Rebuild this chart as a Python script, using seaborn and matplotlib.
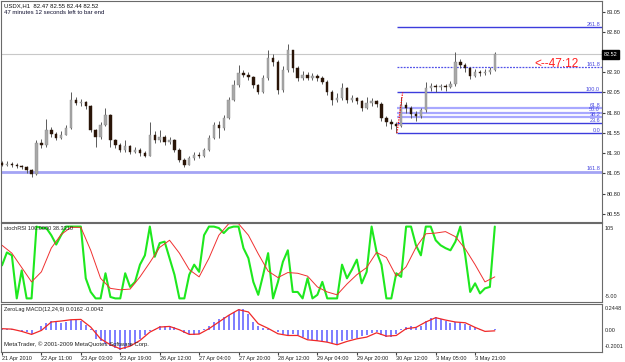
import numpy as np
import pandas as pd
import matplotlib
matplotlib.use("Agg")
import matplotlib.pyplot as plt
import seaborn as sns

# ---------------- data ----------------
x_labels = ["21 Apr 2010", "22 Apr 11:00", "23 Apr 03:00", "23 Apr 19:00", "26 Apr 12:00",
            "27 Apr 04:00", "27 Apr 20:00", "28 Apr 12:00", "29 Apr 04:00", "29 Apr 20:00",
            "30 Apr 12:00", "3 May 05:00", "3 May 21:00"]

first_open = 81.18
close = [81.16, 81.17, 81.16, 81.14, 81.13, 81.09, 81.04, 81.43, 81.40, 81.59,
         81.54, 81.49, 81.53, 81.61, 81.96, 81.92, 81.93, 81.88, 81.59, 81.50,
         81.65, 81.77, 81.46, 81.40, 81.34, 81.39, 81.32, 81.34, 81.30, 81.27,
         81.53, 81.46, 81.50, 81.44, 81.46, 81.34, 81.22, 81.16, 81.24, 81.28,
         81.27, 81.34, 81.49, 81.65, 81.61, 81.74, 81.96, 82.14, 82.29, 82.27,
         82.24, 82.14, 82.06, 82.23, 82.48, 82.43, 82.08, 82.33, 82.57, 82.35,
         82.23, 82.27, 82.23, 82.25, 82.23, 82.18, 82.06, 81.96, 81.98, 82.11,
         81.96, 81.98, 81.94, 81.86, 81.92, 81.94, 81.91, 81.74, 81.69, 81.66,
         81.64, 81.90, 81.86, 81.78, 81.76, 81.83, 82.11, 82.13, 82.12, 82.13,
         82.12, 82.15, 82.43, 82.39, 82.35, 82.25, 82.30, 82.29, 82.30, 82.33,
         82.52]
high = [81.20, 81.20, 81.19, 81.18, 81.16, 81.14, 81.10, 81.46, 81.47, 81.72,
        81.62, 81.56, 81.57, 81.65, 82.06, 81.99, 81.97, 81.94, 81.90, 81.60,
        81.68, 81.86, 81.78, 81.48, 81.43, 81.46, 81.40, 81.38, 81.37, 81.33,
        81.68, 81.57, 81.59, 81.52, 81.50, 81.47, 81.36, 81.24, 81.27, 81.31,
        81.31, 81.37, 81.52, 81.68, 81.70, 81.77, 81.99, 82.20, 82.39, 82.33,
        82.30, 82.25, 82.16, 82.27, 82.57, 82.52, 82.45, 82.38, 82.65, 82.58,
        82.38, 82.32, 82.30, 82.29, 82.28, 82.25, 82.20, 82.08, 82.04, 82.17,
        82.12, 82.02, 82.00, 81.96, 81.99, 81.98, 81.96, 81.93, 81.76, 81.72,
        81.69, 82.00, 81.93, 81.88, 81.82, 81.86, 82.18, 82.17, 82.16, 82.16,
        82.15, 82.19, 82.55, 82.46, 82.41, 82.37, 82.34, 82.33, 82.34, 82.37,
        82.55]
low = [81.14, 81.14, 81.13, 81.12, 81.10, 81.06, 81.00, 81.03, 81.37, 81.38,
       81.50, 81.46, 81.47, 81.52, 81.60, 81.89, 81.88, 81.85, 81.56, 81.38,
       81.48, 81.63, 81.38, 81.37, 81.31, 81.32, 81.29, 81.30, 81.27, 81.25,
       81.26, 81.42, 81.44, 81.40, 81.41, 81.31, 81.19, 81.13, 81.15, 81.22,
       81.24, 81.25, 81.33, 81.47, 81.49, 81.59, 81.72, 81.94, 82.12, 82.24,
       82.20, 82.10, 82.03, 82.04, 82.21, 82.38, 82.03, 82.06, 82.30, 82.30,
       82.19, 82.21, 82.20, 82.20, 82.19, 82.15, 82.02, 81.90, 81.93, 81.96,
       81.92, 81.93, 81.91, 81.82, 81.84, 81.88, 81.87, 81.70, 81.63, 81.60,
       81.55, 81.62, 81.80, 81.74, 81.70, 81.73, 81.81, 82.07, 82.06, 82.08,
       82.07, 82.10, 82.13, 82.35, 82.30, 82.22, 82.24, 82.25, 82.26, 82.28,
       82.32]

stoch_main = [46, 64, 60, 0, 39, 0, 0, 100, 98, 98,
              88, 75, 88, 100, 100, 100, 100, 28, 9, 0,
              0, 35, 2, 0, 0, 35, 16, 23, 47, 60,
              100, 58, 77, 79, 56, 33, 0, 0, 33, 47,
              37, 88, 100, 100, 98, 91, 98, 100, 100, 70,
              56, 23, 5, 33, 63, 0, 23, 51, 67, 9,
              9, 0, 28, 0, 5, 23, 0, 0, 0, 47,
              28, 40, 54, 21, 37, 100, 65, 47, 0, 0,
              35, 30, 100, 100, 74, 60, 100, 100, 81, 74,
              70, 67, 79, 100, 60, 9, 21, 7, 14, 16,
              100]
stoch_signal = [74, 63, 43, 23, 37, 70, 89, 99, 99, 67,
                28, 14, 12, 13, 30, 50, 71, 81, 63, 40,
                30, 56, 88, 104, 104, 88, 62, 38, 29, 36,
                35, 31, 16, 9, 5, 20, 33, 43, 64, 57,
                31, 44, 71, 90, 91, 93, 86, 69, 47, 23,
                30]

macd_hist = [0.012, 0.012, 0.009, 0.006, -0.003, -0.016, -0.031, 0.0, 0.040, 0.071,
             0.084, 0.078, 0.071, 0.078, 0.099, 0.109, 0.084, 0.053, 0.009, -0.078,
             -0.102, -0.124, -0.146, -0.164, -0.180, -0.171, -0.146, -0.115, -0.084, -0.047,
             -0.009, 0.016, 0.037, 0.040, 0.037, 0.028, 0.0, -0.022, -0.037, -0.040,
             -0.034, 0.009, 0.040, 0.078, 0.102, 0.124, 0.146, 0.171, 0.200, 0.195,
             0.155, 0.078, 0.040, 0.022, 0.016, 0.003, -0.016, -0.034, -0.040, -0.031,
             -0.040, -0.062, -0.084, -0.093, -0.096, -0.102, -0.109, -0.118, -0.124, -0.102,
             -0.087, -0.078, -0.068, -0.053, -0.040, -0.025, -0.016, -0.040, -0.062, -0.059,
             -0.034, 0.009, 0.028, 0.037, 0.034, 0.040, 0.084, 0.115, 0.121, 0.102,
             0.084, 0.071, 0.078, 0.071, 0.059, 0.040, 0.028, 0.016, 0.003, 0.0,
             0.016]
macd_signal = [0.016, 0.012, -0.009, -0.037, 0.0, 0.078, 0.087, 0.099, 0.102, 0.031,
               -0.078, -0.133, -0.171, -0.146, -0.093, -0.016, 0.031, 0.037, 0.006, -0.037,
               -0.034, 0.016, 0.078, 0.140, 0.192, 0.171, 0.062, 0.019, -0.031, -0.047,
               -0.047, -0.087, -0.096, -0.109, -0.133, -0.102, -0.078, -0.062, -0.022, -0.053,
               -0.047, 0.016, 0.028, 0.078, 0.118, 0.096, 0.078, 0.071, 0.028, -0.009,
               -0.004]

price_ticks = [83.05, 82.80, 82.30, 82.05, 81.80, 81.55, 81.30, 81.05, 80.80, 80.55]
fib_levels = [0.0, 23.6, 38.2, 50.0, 61.8, 100.0, 161.8, 261.8]
fib_low, fib_high = 81.55, 82.05
ext_line_price = 81.07
last_price = 82.52

# ---------------- figure ----------------
sns.set_style("white")
plt.rcParams['font.family'] = ['Liberation Sans', 'DejaVu Sans']

W, H = 625, 362
fig = plt.figure(figsize=(W / 100, H / 100), dpi=100)
fig.patch.set_facecolor("white")


def rect(x0, y0, x1, y1):
    return [x0 / W, 1 - y1 / H, (x1 - x0) / W, (y1 - y0) / H]


ax1 = fig.add_axes(rect(1, 1, 602, 222))
ax2 = fig.add_axes(rect(1, 223, 602, 302))
ax3 = fig.add_axes(rect(1, 304, 602, 352))

XMIN, XMAX = -0.4, 243.5
n = len(close)
hx = np.arange(n) * 2.0          # hourly positions of the 2-hour candles
hs = np.arange(len(stoch_signal)) * 4.0

for ax in (ax1, ax2, ax3):
    ax.set_xlim(XMIN, XMAX)
    ax.set_facecolor("white")
    for s in ax.spines.values():
        s.set_color("#6a6a6a")
        s.set_linewidth(0.8)
        s.set_linestyle((0, (2, 1)))
    ax.tick_params(axis="x", bottom=False, labelbottom=False)
    ax.tick_params(axis="y", left=False, labelleft=False)

# ---- main price panel ----
c = np.array(close)
o = np.array([first_open] + close[:-1])
hi = np.array(high)
lo = np.array(low)
bull = c >= o
ax1.vlines(hx, lo, hi, color="#5a5a5a", lw=0.7, zorder=3)
body_bottom = np.minimum(o, c)
body_h = np.maximum(np.abs(c - o), 0.006)
ax1.bar(hx[bull], body_h[bull], bottom=body_bottom[bull], width=1.0,
        color="#a8a8a8", edgecolor="#8a8a8a", linewidth=0.3, zorder=4)
ax1.bar(hx[~bull], body_h[~bull], bottom=body_bottom[~bull], width=1.0,
        color="#2a1508", edgecolor="#2a1508", linewidth=0.3, zorder=4)

ax1.axhline(last_price, color="#c8c8c8", lw=0.8, zorder=1)
ax1.axhline(ext_line_price, color="#a4a4f4", lw=2.0, zorder=1)
ax1.text(242.7, ext_line_price + 0.01, "161.8", ha="right", va="bottom",
         fontsize=4, color="#4848e0")

fib_x0 = 160.3
for lev in fib_levels:
    p = fib_low + lev / 100.0 * (fib_high - fib_low)
    if lev in (38.2, 50.0, 61.8):
        ax1.hlines(p, fib_x0, XMAX, color="#a8a8ff", lw=1.6, zorder=2)
    elif lev == 161.8:
        ax1.hlines(p, fib_x0, XMAX, color="#5050e8", lw=0.9, ls=(0, (1.5, 1)), zorder=2)
    else:
        ax1.hlines(p, fib_x0, XMAX, color="#3c3cdc", lw=1.0, zorder=2)
    ax1.text(242.7, p + 0.005, f"{lev:.1f}", ha="right", va="bottom",
             fontsize=4, color="#4848e0")
ax1.plot([fib_x0, fib_x0 + 2.3], [fib_low, fib_high], color="red", ls=(0, (1, 1)),
         lw=0.9, zorder=5)

ax1.text(215.9, 82.405, "<--47:12", color="#ff2020", fontsize=8.5, va="center", ha="left")

ax1.set_ylim(80.45, 83.18)
ax1.yaxis.tick_right()
ax1.set_yticks(price_ticks)
ax1.set_yticklabels([f"{t:.2f}" for t in price_ticks])
ax1.tick_params(axis="y", right=True, labelright=True, labelsize=4, length=2,
                pad=1.5, color="#404040", labelcolor="#202020")
ax1.text(1.003, last_price, f"{last_price:.2f}", transform=ax1.get_yaxis_transform(),
         ha="left", va="center", fontsize=4, color="white",
         bbox=dict(boxstyle="square,pad=0.3", fc="black", ec="black"))

# ---- stochRSI panel ----
df_s = pd.DataFrame({"h": hx, "v": stoch_main})
df_sig = pd.DataFrame({"h": hs, "v": stoch_signal})
sns.lineplot(data=df_s, x="h", y="v", ax=ax2, color="#1ee81e", lw=1.5, estimator=None)
sns.lineplot(data=df_sig, x="h", y="v", ax=ax2, color="#f03030", lw=0.7, estimator=None)
ax2.set_ylim(-5, 105)
ax2.set_xlim(XMIN, XMAX)
ax2.set_xlabel("")
ax2.set_ylabel("")
ax2.text(1.004, 0.93, "105", transform=ax2.transAxes, fontsize=4, va="center", ha="left")
ax2.text(1.004, 0.07, "-5.00", transform=ax2.transAxes, fontsize=4, va="center", ha="left")

# ---- ZeroLag MACD panel ----
df_m = pd.DataFrame({"h": np.arange(len(macd_signal)) * 4.0, "v": macd_signal})
ax3.vlines(hx, 0, macd_hist, color="#5a5aff", lw=1.1, zorder=2)
sns.lineplot(data=df_m, x="h", y="v", ax=ax3, color="#f02828", lw=0.9, estimator=None)
ax3.set_ylim(-0.2001, 0.2448)
ax3.set_xlim(XMIN, XMAX)
ax3.set_xlabel("")
ax3.set_ylabel("")
ax3.text(1.004, 0.90, "0.2448", transform=ax3.transAxes, fontsize=4, va="center", ha="left")
ax3.text(1.004, 0.44, "0.00", transform=ax3.transAxes, fontsize=4, va="center", ha="left")
ax3.text(1.004, 0.12, "-0.2001", transform=ax3.transAxes, fontsize=4, va="center", ha="left")

ax3.set_xticks(np.arange(len(x_labels)) * 16)
ax3.set_xticklabels(x_labels, ha="left")
ax3.tick_params(axis="x", bottom=True, labelbottom=True, labelsize=4, length=2,
                pad=1, color="#404040", labelcolor="#202020")


def ftext(x, y, s, **kw):
    fig.text(x / W, 1 - y / H, s, va="center", ha="left", **kw)


ftext(4, 6, "USDX,H1  82.47 82.55 82.44 82.52", fontsize=4.3, color="#101010")
ftext(4, 13, "47 minutes 12 seconds left to bar end", fontsize=4.3, color="#101030")
ftext(4, 229, "stochRSI 100.0000 38.3310", fontsize=4, color="#202020")
ftext(4, 310, "ZeroLag MACD(12,24,9) 0.0162 -0.0042", fontsize=4, color="#202020")
ftext(4, 344, "MetaTrader, \u00a9 2001-2009 MetaQuotes Software Corp.", fontsize=4.3, color="#202020")

fig.savefig("out.png", dpi=100, facecolor="white")
